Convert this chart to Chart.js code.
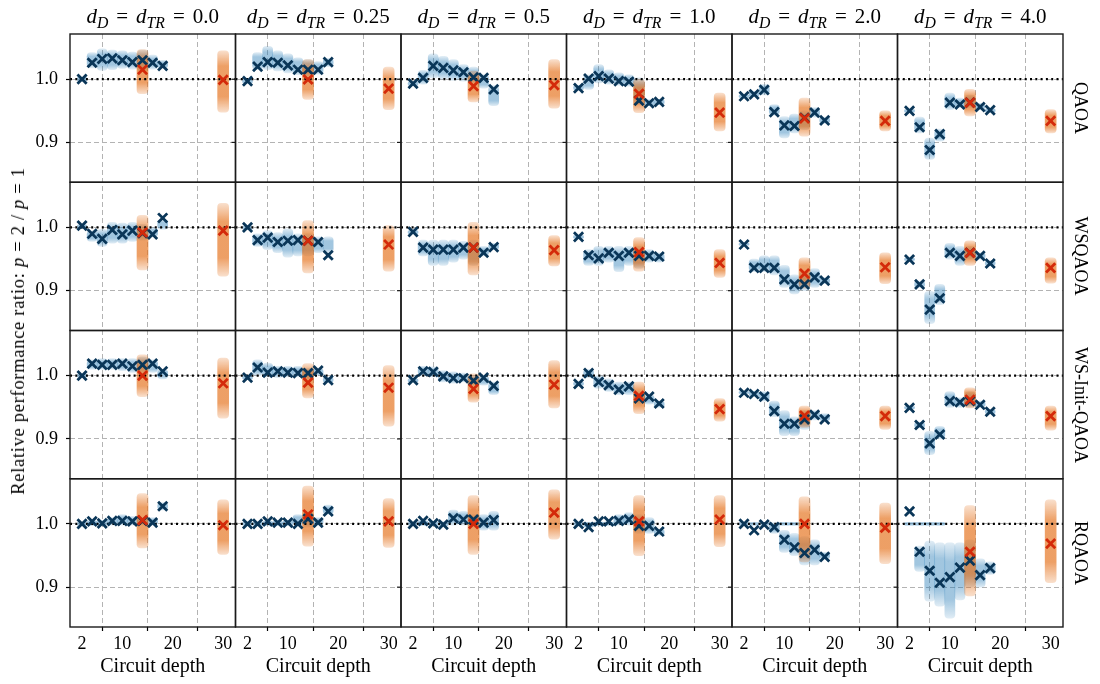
<!DOCTYPE html>
<html><head><meta charset="utf-8">
<script src="https://cdn.jsdelivr.net/npm/chart.js@4/dist/chart.umd.min.js"></script>
<style>
html,body{margin:0;padding:0;background:#fff;}
#wrap{position:relative;width:1100px;height:684px;overflow:hidden;font-family:"Liberation Serif",serif;color:#000;}
canvas{position:absolute;left:0;top:0;}
.ctitle{position:absolute;text-align:center;font-size:21px;line-height:22px;white-space:nowrap;}
.ctitle sub{font-size:0.75em;vertical-align:-0.3em;line-height:0;}
.ctitle .eq{margin:0 0.38em;}
.rlabel{position:absolute;font-size:18px;line-height:20px;white-space:nowrap;transform:translate(-50%,-50%) rotate(90deg);}
.ytitle{position:absolute;font-size:18.5px;letter-spacing:0.7px;line-height:20px;white-space:nowrap;transform:translate(-50%,-50%) rotate(-90deg);}
</style></head><body>
<div id="wrap"><canvas id="c" width="1100" height="684"></canvas></div>
<script>
// ---------- data ----------
const columnValues = ['0.0', '0.25', '0.5', '1.0', '2.0', '4.0'];
const rowNames = ['QAOA', 'WSQAOA', 'WS-Init-QAOA', 'RQAOA'];
const depths = [2, 4, 6, 8, 10, 12, 14, 16, 18];
const redDepths = [14, 30];
const xTicks = [2, 10, 20, 30];
const yTicks = [0.9, 1.0];
const refValue = 1.0;

// blue x markers (mean per depth), one list per column
const qaoaMeans = [
  [1.000, 1.026, 1.032, 1.033, 1.030, 1.027, 1.030, 1.026, 1.021],
  [0.997, 1.020, 1.027, 1.026, 1.022, 1.015, 1.015, 1.015, 1.027],
  [0.993, 1.002, 1.021, 1.018, 1.014, 1.011, 1.003, 1.002, 0.984],
  [0.986, 1.001, 1.005, 1.001, 0.997, 0.996, 0.966, 0.962, 0.964],
  [0.973, 0.976, 0.983, 0.948, 0.927, 0.926, 0.939, 0.947, 0.935],
  [0.950, 0.924, 0.888, 0.913, 0.963, 0.960, 0.963, 0.956, 0.951]
];
const wsqaoaMeans = [
  [1.003, 0.990, 0.982, 0.996, 0.989, 0.995, 0.991, 0.989, 1.015],
  [1.000, 0.980, 0.984, 0.977, 0.979, 0.980, 0.979, 0.977, 0.956],
  [0.993, 0.968, 0.965, 0.965, 0.965, 0.968, 0.968, 0.960, 0.969],
  [0.985, 0.956, 0.951, 0.960, 0.955, 0.960, 0.955, 0.955, 0.954],
  [0.973, 0.936, 0.936, 0.936, 0.918, 0.910, 0.910, 0.921, 0.916],
  [0.949, 0.910, 0.870, 0.888, 0.960, 0.955, 0.960, 0.955, 0.943]
];
const wsInitMeans = [
  [1.000, 1.019, 1.017, 1.017, 1.019, 1.015, 1.017, 1.019, 1.007],
  [0.997, 1.013, 1.005, 1.007, 1.005, 1.004, 1.004, 1.008, 0.993],
  [0.993, 1.007, 1.006, 0.999, 0.996, 0.996, 0.992, 0.997, 0.984],
  [0.987, 1.004, 0.990, 0.985, 0.978, 0.983, 0.964, 0.967, 0.956],
  [0.973, 0.971, 0.967, 0.944, 0.924, 0.924, 0.931, 0.938, 0.931],
  [0.949, 0.922, 0.893, 0.907, 0.960, 0.958, 0.960, 0.954, 0.943]
];
const rqaoaMeans = [
  [1.000, 1.004, 1.001, 1.005, 1.005, 1.004, 1.005, 1.002, 1.028],
  [1.000, 1.000, 1.004, 1.002, 1.002, 1.000, 1.008, 1.002, 1.020],
  [1.000, 1.005, 1.001, 0.999, 1.009, 1.007, 1.007, 1.002, 1.006],
  [1.000, 0.995, 1.004, 1.004, 1.005, 1.007, 0.997, 0.997, 0.988],
  [1.000, 0.990, 0.999, 0.995, 0.975, 0.963, 0.954, 0.959, 0.948],
  [1.020, 0.956, 0.926, 0.907, 0.916, 0.931, 0.942, 0.919, 0.930]
];

// red x markers at depth 14 and 30
const qaoaRed   = [[1.015, 0.999], [0.9995, 0.985], [0.989, 0.9905], [0.977, 0.947], [0.938, 0.934], [0.963, 0.934]];
const wsqaoaRed = [[0.992, 0.995], [0.979, 0.973], [0.968, 0.964], [0.961, 0.944], [0.927, 0.937], [0.960, 0.936]];
const wsInitRed = [[1.000, 0.988], [0.989, 0.981], [0.979, 0.986], [0.968, 0.947], [0.937, 0.936], [0.962, 0.936]];
const rqaoaRed  = [[1.006, 0.998], [1.015, 1.004], [1.000, 1.018], [1.004, 1.007], [1.000, 0.994], [0.956, 0.969]];

// blue point clouds: [low, high] extent per depth
const qaoaCloud = [
  [[0.997,1.003],[1.018,1.042],[1.014,1.048],[1.015,1.046],[1.017,1.045],[1.016,1.043],[1.012,1.046],[1.016,1.038],[1.017,1.030]],
  [[0.994,1.000],[1.015,1.042],[1.015,1.052],[1.013,1.045],[1.010,1.040],[1.007,1.034],[1.005,1.031],[1.008,1.028],[1.020,1.033]],
  [[0.990,0.996],[0.992,1.014],[1.002,1.040],[1.000,1.036],[0.998,1.031],[0.997,1.023],[0.994,1.019],[0.986,1.007],[0.958,0.990]],
  [[0.983,0.990],[0.984,1.007],[0.994,1.023],[0.992,1.015],[0.990,1.010],[0.989,1.007],[0.960,1.002],[0.958,0.967],[0.960,0.968]],
  [[0.971,0.975],[0.973,0.980],[0.975,0.992],[0.943,0.960],[0.907,0.941],[0.915,0.945],[0.920,0.950],[0.940,0.955],[0.930,0.940]],
  [[0.948,0.952],[0.915,0.940],[0.873,0.907],[0.902,0.921],[0.952,0.978],[0.955,0.970],[0.955,0.975],[0.952,0.962],[0.948,0.953]]
];
const wsqaoaCloud = [
  [[0.998,1.004],[0.978,0.995],[0.970,0.997],[0.975,1.008],[0.975,1.007],[0.978,1.008],[0.980,1.005],[0.985,1.000],[0.997,1.012]],
  [[0.997,1.002],[0.970,0.990],[0.965,0.995],[0.960,0.992],[0.953,0.998],[0.955,0.990],[0.955,0.990],[0.960,0.985],[0.960,0.985]],
  [[0.990,0.995],[0.955,0.980],[0.940,0.980],[0.940,0.980],[0.945,0.980],[0.950,0.978],[0.940,0.980],[0.955,0.970],[0.965,0.975]],
  [[0.983,0.987],[0.940,0.965],[0.940,0.970],[0.945,0.970],[0.930,0.970],[0.940,0.970],[0.935,0.970],[0.945,0.965],[0.945,0.960]],
  [[0.972,0.975],[0.930,0.950],[0.930,0.955],[0.925,0.955],[0.905,0.940],[0.895,0.925],[0.900,0.930],[0.905,0.935],[0.912,0.920]],
  [[0.948,0.951],[0.905,0.915],[0.848,0.899],[0.878,0.910],[0.950,0.975],[0.940,0.970],[0.950,0.970],[0.950,0.960],[0.940,0.947]]
];
const wsInitCloud = [
  [[0.998,1.002],[1.010,1.025],[1.010,1.027],[1.010,1.027],[1.008,1.027],[1.005,1.027],[1.005,1.030],[1.005,1.025],[0.995,1.010]],
  [[0.995,0.999],[1.000,1.025],[0.998,1.020],[0.997,1.015],[0.998,1.015],[0.998,1.015],[0.995,1.012],[1.000,1.012],[0.990,0.997]],
  [[0.990,0.995],[1.000,1.015],[0.998,1.014],[0.990,1.008],[0.988,1.006],[0.990,1.004],[0.985,1.000],[0.985,1.000],[0.970,0.990]],
  [[0.985,0.990],[0.997,1.010],[0.980,1.000],[0.975,0.995],[0.970,0.990],[0.970,0.990],[0.955,0.975],[0.955,0.970],[0.950,0.960]],
  [[0.972,0.975],[0.968,0.975],[0.960,0.975],[0.935,0.960],[0.905,0.945],[0.905,0.935],[0.915,0.945],[0.930,0.945],[0.928,0.940]],
  [[0.948,0.951],[0.918,0.926],[0.875,0.912],[0.900,0.920],[0.950,0.975],[0.950,0.965],[0.950,0.975],[0.950,0.960],[0.940,0.946]]
];
const rqaoaCloud = [
  [[0.998,1.002],[0.998,1.005],[0.998,1.005],[0.998,1.010],[0.998,1.015],[0.998,1.012],[0.998,1.010],[0.998,1.010],[1.022,1.034]],
  [[0.998,1.003],[0.998,1.003],[0.998,1.004],[0.998,1.004],[0.998,1.005],[0.998,1.015],[0.995,1.020],[0.998,1.010],[1.015,1.030]],
  [[0.998,1.002],[0.998,1.005],[0.998,1.003],[0.997,1.003],[0.998,1.022],[0.998,1.020],[0.995,1.015],[0.990,1.015],[0.990,1.020]],
  [[0.998,1.002],[0.995,1.002],[0.998,1.003],[0.998,1.003],[0.998,1.015],[0.998,1.018],[0.985,1.015],[0.985,1.010],[0.982,0.992]],
  [[0.998,1.002],[0.998,1.002],[0.998,1.002],[0.985,1.002],[0.955,0.990],[0.950,0.985],[0.935,0.980],[0.935,0.975],[0.945,0.955]],
  [[0.998,1.002],[0.925,0.965],[0.878,0.973],[0.870,0.970],[0.851,0.970],[0.880,0.970],[0.900,0.975],[0.900,0.945],[0.920,0.940]]
];
// RQAOA: depths that also keep a flat run of points at 1.0 besides the cloud
const rqaoaFlatDepths = [[], [], [], [], [10, 12], [4, 6, 8]];
const rqaoaFlatRange = [0.998, 1.002];

// orange point clouds at depth 14 and 30: [low, high]
const qaoaOrange = [
  [[0.977,1.047],[0.948,1.045]], [[0.968,1.031],[0.952,1.019]], [[0.964,1.013],[0.954,1.031]],
  [[0.947,1.000],[0.918,0.978]], [[0.910,0.970],[0.918,0.950]], [[0.942,0.984],[0.915,0.952]]
];
const wsqaoaOrange = [
  [[0.933,1.019],[0.923,1.038]], [[0.928,1.011],[0.931,1.003]], [[0.925,1.008],[0.939,0.987]],
  [[0.931,0.984],[0.921,0.965]], [[0.904,0.952],[0.911,0.960]], [[0.940,0.979],[0.912,0.952]]
];
const wsInitOrange = [
  [[0.967,1.033],[0.933,1.028]], [[0.965,1.019],[0.920,1.016]], [[0.958,1.003],[0.949,1.024]],
  [[0.940,0.990],[0.928,0.964]], [[0.918,0.952],[0.915,0.952]], [[0.949,0.981],[0.914,0.952]]
];
const rqaoaOrange = [
  [[0.962,1.048],[0.952,1.038]], [[0.965,1.060],[0.963,1.040]], [[0.952,1.045],[0.976,1.054]],
  [[0.950,1.045],[0.964,1.045]], [[0.940,1.043],[0.937,1.033]], [[0.886,1.029],[0.907,1.038]]
];

// ---------- chart ----------
const X_MIN = -0.39, X_MAX = 32.45, Y_MIN = 0.837, Y_MAX = 1.0715;
const noFlat = [[], [], [], [], [], []];
const rows = [
  {means: qaoaMeans, red: qaoaRed, cloud: qaoaCloud, orange: qaoaOrange, flat: noFlat},
  {means: wsqaoaMeans, red: wsqaoaRed, cloud: wsqaoaCloud, orange: wsqaoaOrange, flat: noFlat},
  {means: wsInitMeans, red: wsInitRed, cloud: wsInitCloud, orange: wsInitOrange, flat: noFlat},
  {means: rqaoaMeans, red: rqaoaRed, cloud: rqaoaCloud, orange: rqaoaOrange, flat: rqaoaFlatDepths}
];

const FONT = {family: '"Liberation Serif", serif', size: 18};
const TITLE_FONT = {family: '"Liberation Serif", serif', size: 20};
const gridOpts = {color: '#b3b3b3', lineWidth: 1, tickLength: 4, tickColor: '#000', tickWidth: 1.2};

// soft vertical fade so a range reads like a cloud of translucent points
function cloudFill(rgb, aMid, aEdge) {
  return (ctx) => {
    const flat = `rgba(${rgb},${aMid})`;
    if (ctx.type !== 'data' || !ctx.raw || !Array.isArray(ctx.raw.y)) return flat;
    const ys = ctx.chart.scales[ctx.dataset.yAxisID];
    if (!ys) return flat;
    const top = ys.getPixelForValue(ctx.raw.y[1]);
    const bot = ys.getPixelForValue(ctx.raw.y[0]);
    if (!isFinite(top) || !isFinite(bot) || bot - top < 6) return flat;
    const g = ctx.chart.ctx.createLinearGradient(0, top, 0, bot);
    g.addColorStop(0, `rgba(${rgb},${aEdge})`);
    g.addColorStop(0.25, `rgba(${rgb},${aMid})`);
    g.addColorStop(0.75, `rgba(${rgb},${aMid})`);
    g.addColorStop(1, `rgba(${rgb},${aEdge})`);
    return g;
  };
}

const scales = {};
columnValues.forEach((v, c) => {
  scales['x' + c] = {
    type: 'linear', position: 'bottom', stack: 'cols', stackWeight: 1, offset: false,
    min: X_MIN, max: X_MAX,
    afterBuildTicks: s => { s.ticks = xTicks.map(t => ({value: t})); },
    afterFit: s => { s.height = 57; },
    ticks: {font: FONT, color: '#000', padding: 2, maxRotation: 0, autoSkip: false, callback: t => String(t)},
    grid: gridOpts,
    border: {display: false, dash: [5, 3]},
    title: {display: true, text: 'Circuit depth', font: TITLE_FONT, color: '#000', padding: {top: 0, bottom: 5}}
  };
});
rowNames.forEach((n, r) => {
  scales['y' + r] = {
    type: 'linear', position: 'left', stack: 'rows', stackWeight: 1, weight: rowNames.length - r,
    min: Y_MIN, max: Y_MAX,
    afterBuildTicks: s => { s.ticks = yTicks.map(t => ({value: t})); },
    afterFit: s => { s.width = 70; },
    ticks: {font: FONT, color: '#000', padding: 8, callback: t => t.toFixed(1)},
    grid: gridOpts,
    border: {display: false, dash: [5, 3]}
  };
});

const datasets = [];
rows.forEach((row, r) => {
  columnValues.forEach((v, c) => {
    const xa = 'x' + c, ya = 'y' + r;
    const cloudData = depths.map((d, i) => ({x: d, y: row.cloud[c][i]}))
      .concat(row.flat[c].map(d => ({x: d, y: rqaoaFlatRange})));
    datasets.push({type: 'bar', xAxisID: xa, yAxisID: ya, grouped: false, order: 5,
      data: cloudData, backgroundColor: cloudFill('31,119,180', 0.42, 0.14), borderWidth: 0,
      barThickness: 10, borderRadius: 4, borderSkipped: false});
    datasets.push({type: 'bar', xAxisID: xa, yAxisID: ya, grouped: false, order: 4,
      data: redDepths.map((d, i) => ({x: d, y: row.orange[c][i]})),
      backgroundColor: cloudFill('228,110,22', 0.66, 0.22), borderWidth: 0,
      barThickness: 11, borderRadius: 4, borderSkipped: false});
    datasets.push({type: 'line', xAxisID: xa, yAxisID: ya, order: 3,
      data: [{x: X_MIN, y: refValue}, {x: X_MAX, y: refValue}],
      borderColor: '#000', borderWidth: 2.2, borderDash: [2, 3.3], borderCapStyle: 'butt', pointRadius: 0});
    datasets.push({type: 'scatter', xAxisID: xa, yAxisID: ya, order: 2,
      data: depths.map((d, i) => ({x: d, y: row.means[c][i]})),
      pointStyle: 'crossRot', pointRadius: 6.5, borderWidth: 2.8,
      borderColor: '#0a3658', backgroundColor: '#0a3658'});
    datasets.push({type: 'scatter', xAxisID: xa, yAxisID: ya, order: 1,
      data: redDepths.map((d, i) => ({x: d, y: row.red[c][i]})),
      pointStyle: 'crossRot', pointRadius: 6.5, borderWidth: 2.8,
      borderColor: '#d42a0a', backgroundColor: '#d42a0a'});
  });
});

const panelFrame = {
  id: 'panelFrame',
  afterDraw(chart) {
    const ctx = chart.ctx;
    ctx.save();
    ctx.strokeStyle = '#1a1a1a';
    rowNames.forEach((n, r) => {
      const ys = chart.scales['y' + r];
      columnValues.forEach((v, c) => {
        const xs = chart.scales['x' + c];
        ctx.lineWidth = 1.4;
        ctx.strokeRect(xs.left, ys.top, xs.right - xs.left, ys.bottom - ys.top);
        if (c > 0) {
          ctx.lineWidth = 1.2;
          yTicks.forEach(t => {
            const y = ys.getPixelForValue(t);
            ctx.beginPath(); ctx.moveTo(xs.left - 4, y); ctx.lineTo(xs.left, y); ctx.stroke();
          });
        }
      });
    });
    ctx.restore();
  }
};

const chart = new Chart(document.getElementById('c'), {
  type: 'scatter',
  data: {datasets},
  options: {
    responsive: false, animation: false, events: [],
    layout: {padding: {left: 0, right: 37, top: 34, bottom: 0}},
    plugins: {legend: {display: false}, tooltip: {enabled: false}, title: {display: false}},
    scales
  },
  plugins: [panelFrame]
});

// ---------- text labels placed from the chart's own scales ----------
const wrap = document.getElementById('wrap');
columnValues.forEach((v, c) => {
  const s = chart.scales['x' + c];
  const d = document.createElement('div');
  d.className = 'ctitle';
  d.style.left = s.left + 'px';
  d.style.width = (s.right - s.left) + 'px';
  d.style.top = '5px';
  d.innerHTML = '<i>d</i><sub><i>D</i></sub><span class="eq">=</span><i>d</i><sub><i>TR</i></sub><span class="eq">=</span>' + v;
  wrap.appendChild(d);
});
rowNames.forEach((n, r) => {
  const s = chart.scales['y' + r];
  const d = document.createElement('div');
  d.className = 'rlabel';
  d.style.left = '1081px';
  d.style.top = ((s.top + s.bottom) / 2) + 'px';
  d.textContent = n;
  wrap.appendChild(d);
});
const yt = document.createElement('div');
yt.className = 'ytitle';
yt.style.left = '18px';
yt.style.top = ((chart.chartArea.top + chart.chartArea.bottom) / 2) + 'px';
yt.innerHTML = 'Relative performance ratio: <i>p</i> = 2 / <i>p</i> = 1';
wrap.appendChild(yt);
</script></body></html>
